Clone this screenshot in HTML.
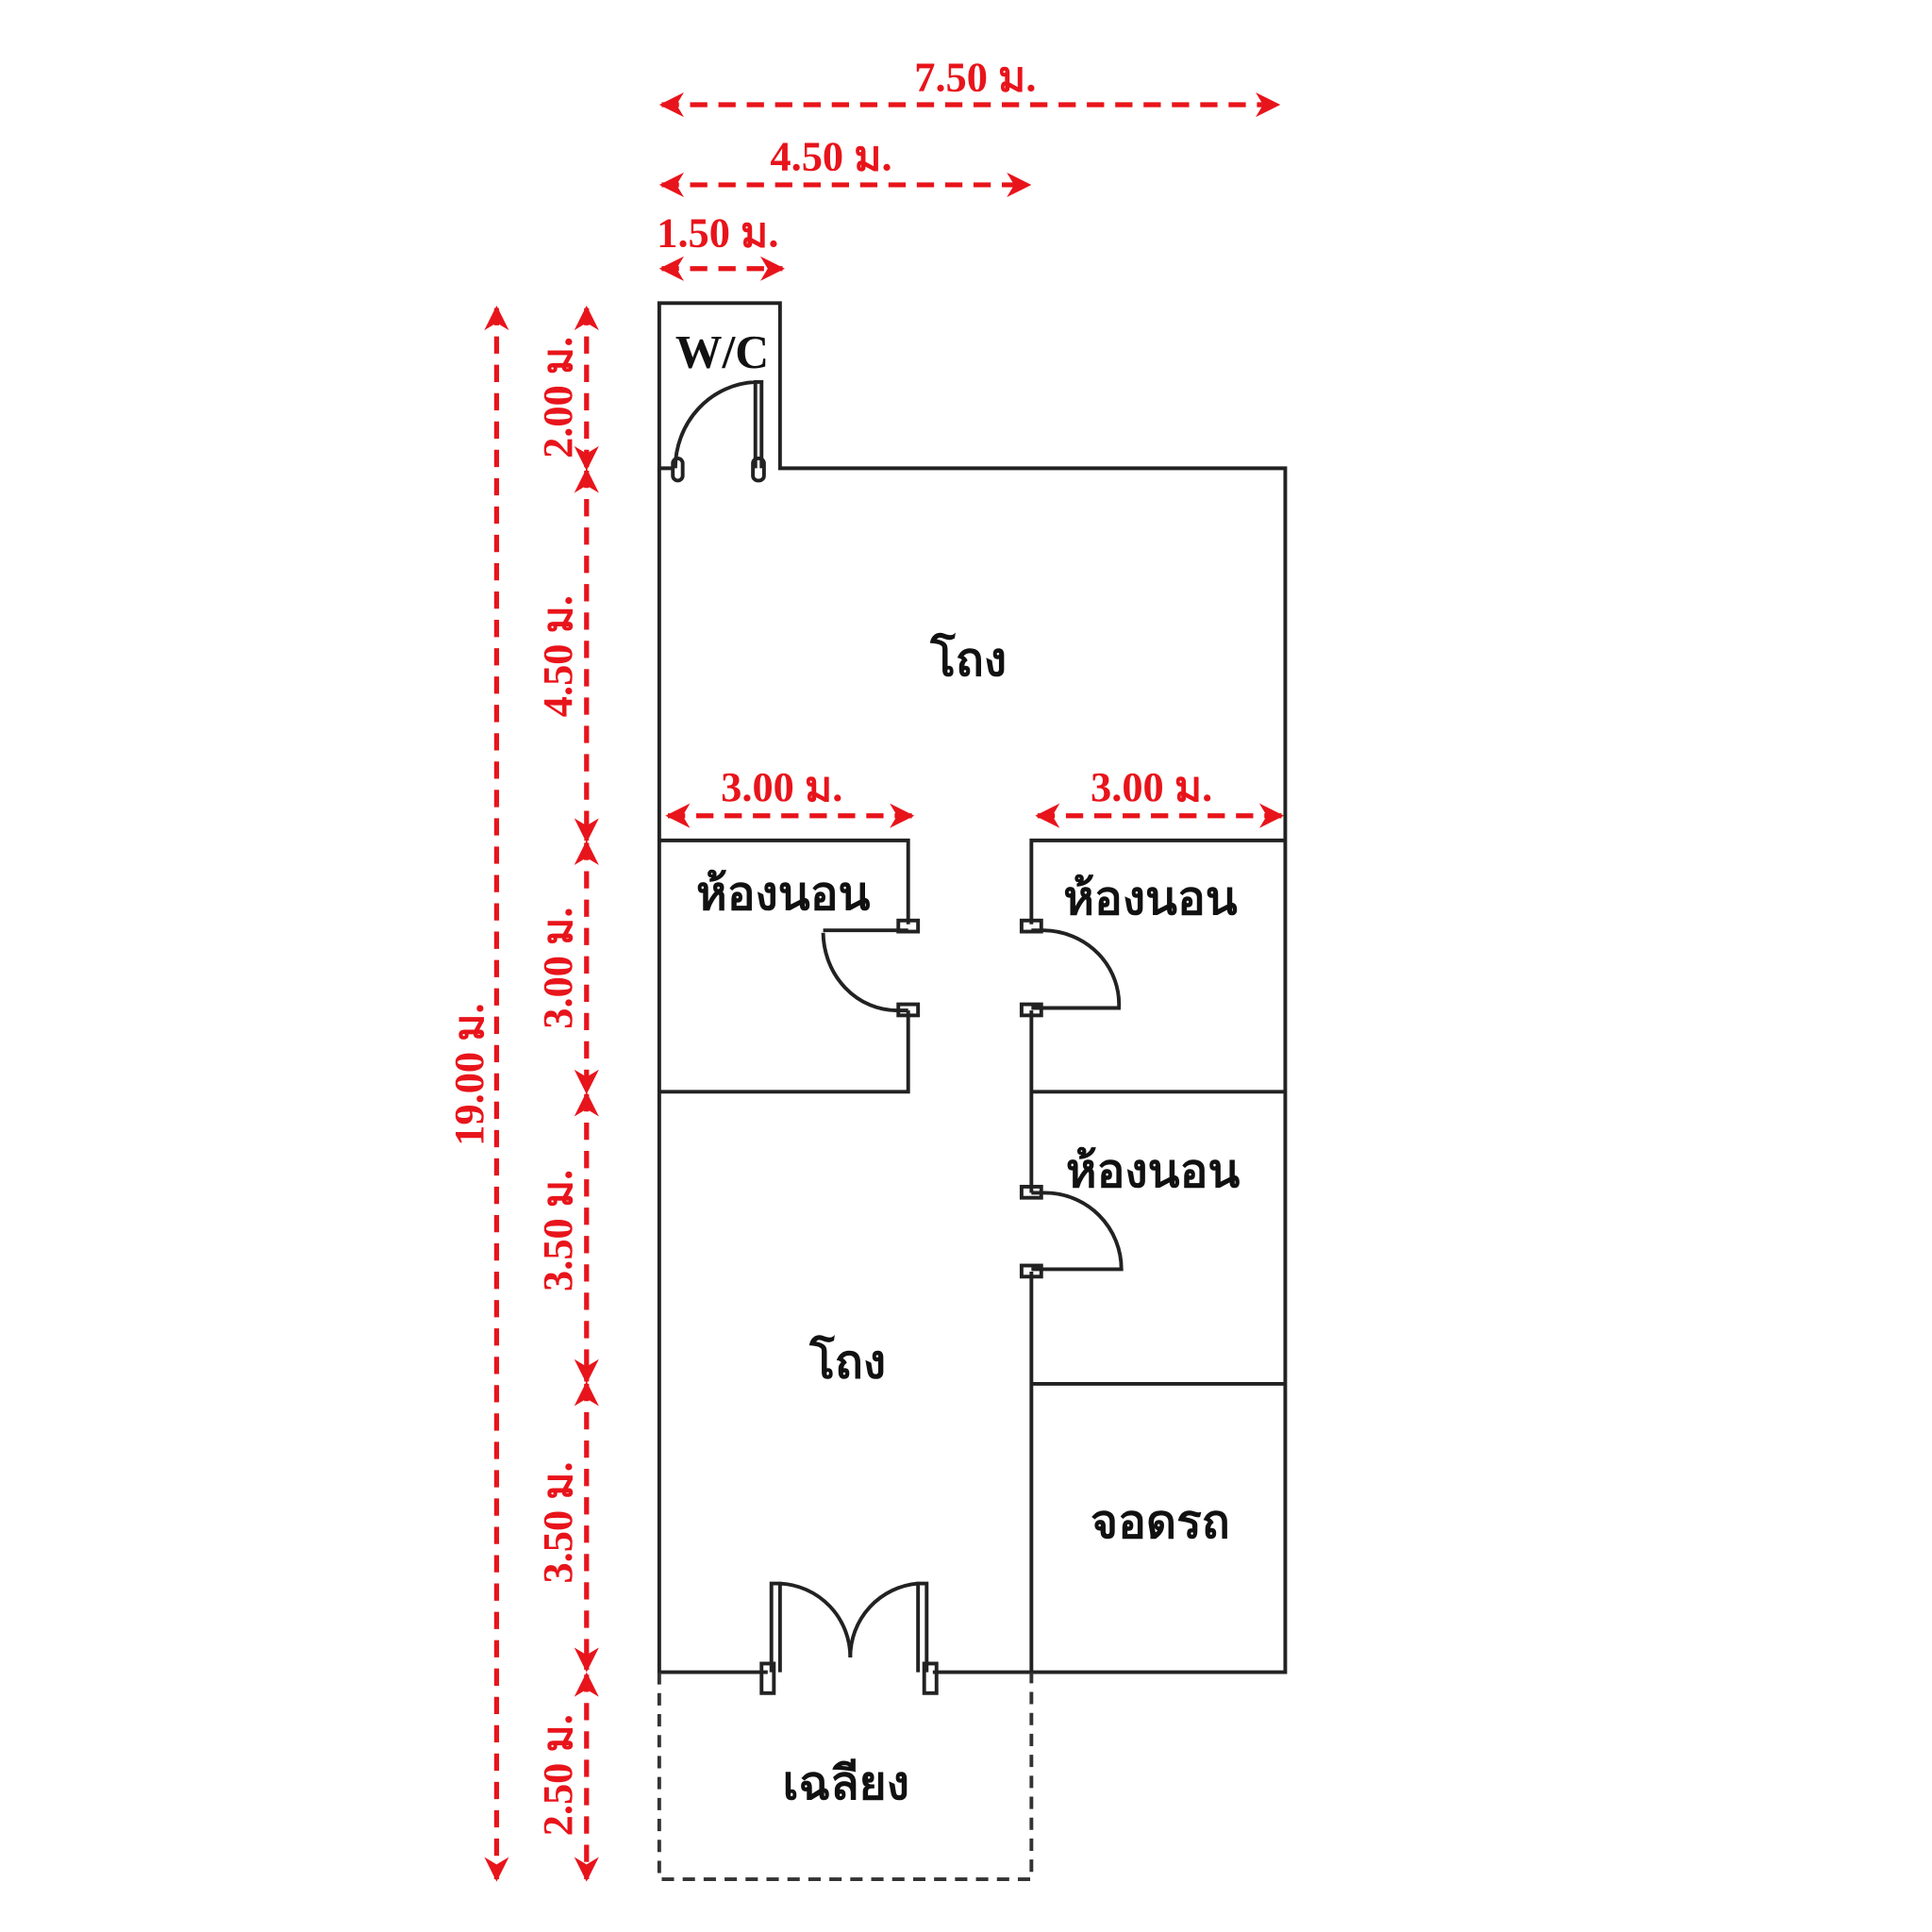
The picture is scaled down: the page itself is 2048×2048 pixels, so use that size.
<!DOCTYPE html>
<html><head><meta charset="utf-8"><style>html,body{margin:0;padding:0;background:#fff;}svg{display:block}</style></head>
<body>
<svg width="2048" height="2048" viewBox="0 0 1560 1560" xmlns="http://www.w3.org/2000/svg">
<defs>
<marker id="a" viewBox="0 0 10 10" refX="9" refY="5" markerWidth="5" markerHeight="5" orient="auto-start-reverse"><path d="M0,0 L10,5 L0,10 L3,5 z" fill="#e8141b"/></marker>
</defs>
<g transform="scale(0.995)">
<g stroke="#e8141b" stroke-width="4" stroke-dasharray="14,9" fill="none">
<line x1="537" y1="85" x2="1037" y2="85" marker-start="url(#a)" marker-end="url(#a)"/>
<line x1="537" y1="150" x2="835" y2="150" marker-start="url(#a)" marker-end="url(#a)"/>
<line x1="537" y1="218" x2="635" y2="218" marker-start="url(#a)" marker-end="url(#a)"/>
<line x1="542" y1="662" x2="740" y2="662" marker-start="url(#a)" marker-end="url(#a)"/>
<line x1="842" y1="662" x2="1040" y2="662" marker-start="url(#a)" marker-end="url(#a)"/>
<line x1="403" y1="250" x2="403" y2="1525" marker-start="url(#a)" marker-end="url(#a)"/>
<line x1="476" y1="250" x2="476" y2="380" marker-start="url(#a)" marker-end="url(#a)"/>
<line x1="476" y1="382" x2="476" y2="682" marker-start="url(#a)" marker-end="url(#a)"/>
<line x1="476" y1="684" x2="476" y2="886" marker-start="url(#a)" marker-end="url(#a)"/>
<line x1="476" y1="888" x2="476" y2="1121" marker-start="url(#a)" marker-end="url(#a)"/>
<line x1="476" y1="1123" x2="476" y2="1355" marker-start="url(#a)" marker-end="url(#a)"/>
<line x1="476" y1="1359" x2="476" y2="1525" marker-start="url(#a)" marker-end="url(#a)"/>
</g>
<g fill="#e8141b" font-family="Liberation Serif, serif" font-weight="bold" font-size="34">
<text x="742" y="74">7.50 ม.</text>
<text x="625" y="138">4.50 ม.</text>
<text x="533" y="200">1.50 ม.</text>
<text x="585" y="650">3.00 ม.</text>
<text x="885" y="650">3.00 ม.</text>
<text transform="translate(392,930) rotate(-90)">19.00 ม.</text>
<text transform="translate(464,372) rotate(-90)">2.00 ม.</text>
<text transform="translate(464,582) rotate(-90)">4.50 ม.</text>
<text transform="translate(464,835) rotate(-90)">3.00 ม.</text>
<text transform="translate(464,1048) rotate(-90)">3.50 ม.</text>
<text transform="translate(464,1285) rotate(-90)">3.50 ม.</text>
<text transform="translate(464,1490) rotate(-90)">2.50 ม.</text>
</g>
<g stroke="#222" stroke-width="3" fill="none">
<path d="M545,380 L535,380 L535,246 L633,246 L633,380 L1043,380 L1043,1357 L757,1357"/>
<path d="M623,1357 L535,1357 L535,380"/>
<path d="M535,682 L737,682 L737,750 M737,820 L737,886 L535,886"/>
<path d="M837,750 L837,682 L1043,682 M837,820 L837,968 M837,1032 L837,1357"/>
<path d="M837,886 L1043,886 M837,1123 L1043,1123"/>
<path d="M613,380 L613,310 L618,310 L618,380 M613,310 A68,70 0 0 0 548,380"/>
<path d="M737,755 L668,755 M737,820 L728,820 A60,64 0 0 1 668,757"/>
<path d="M837,755 L847,755 A62,60 0 0 1 908,818 L837,818"/>
<path d="M837,968 L848,968 A62,62 0 0 1 910,1030 L837,1030"/>
<path d="M626,1357 L626,1285 L633,1285 L633,1357 M633,1285 A60,60 0 0 1 690,1345"/>
<path d="M752,1357 L752,1285 L745,1285 L745,1357 M745,1285 A60,60 0 0 0 690,1345"/>
<rect x="546" y="372" width="8" height="18" rx="4"/><rect x="611" y="372" width="9" height="18" rx="4"/>
<rect x="729" y="747" width="16" height="9"/><rect x="729" y="815" width="16" height="9"/>
<rect x="829" y="747" width="16" height="9"/><rect x="829" y="815" width="16" height="9"/>
<rect x="829" y="963" width="16" height="9"/><rect x="829" y="1027" width="16" height="9"/>
<rect x="618" y="1350" width="10" height="24"/><rect x="750" y="1350" width="10" height="24"/>
</g>
<path d="M535,1357 L535,1525 L837,1525 L837,1357" stroke="#333" stroke-width="3" stroke-dasharray="10,7" fill="none"/>
<g fill="#111" font-family="Liberation Serif, 'Noto Serif CJK SC', 'Noto Sans CJK SC', serif" font-weight="bold" font-size="38">
<text x="548" y="298">W/C</text>
<text x="755" y="548">โถง</text>
<text x="565" y="738">ห้องนอน</text>
<text x="863" y="742">ห้องนอน</text>
<text x="865" y="963">ห้องนอน</text>
<text x="657" y="1118">โถง</text>
<text x="885" y="1248">จอดรถ</text>
<text x="635" y="1460">เฉลียง</text>
</g>
</g>
</svg>
</body></html>
